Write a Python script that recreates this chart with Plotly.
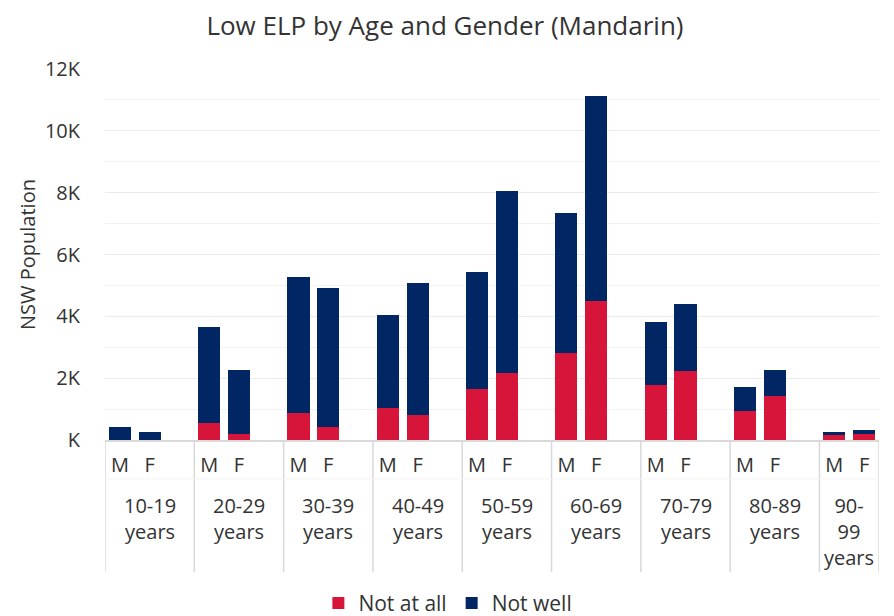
import plotly.graph_objects as go

age_groups = ["10-19<br>years", "20-29<br>years", "30-39<br>years", "40-49<br>years",
              "50-59<br>years", "60-69<br>years", "70-79<br>years", "80-89<br>years",
              "90-<br>99<br>years"]
genders = ["M", "F"]
# values in people: [M, F] per age group
not_at_all = [0, 0, 550, 180, 860, 430, 1030, 810, 1650, 2170,
              2810, 4500, 1780, 2230, 940, 1420, 150, 190]
total = [430, 250, 3650, 2260, 5270, 4920, 4040, 5080, 5430, 8050,
         7340, 11130, 3820, 4400, 1710, 2260, 270, 320]
not_well = [t - n for t, n in zip(total, not_at_all)]
y_tick_vals = [0, 2000, 4000, 6000, 8000, 10000, 12000]
y_tick_text = ["K", "2K", "4K", "6K", "8K", "10K", "12K"]

RED = "#D7153A"
NAVY = "#002664"
FONT = "Open Sans"
TXT = "#333333"

# slot positions: each age group gets M, F and a spacer slot (none after last)
xpos = []
for g in range(len(age_groups)):
    xpos += [3 * g, 3 * g + 1]
xlabels = genders * len(age_groups)

fig = go.Figure()
fig.add_trace(go.Bar(x=xpos, y=not_at_all, name="Not at all", marker_color=RED,
                     width=0.74, marker_line_width=0))
fig.add_trace(go.Bar(x=xpos, y=not_well, name="Not well", marker_color=NAVY,
                     width=0.74, marker_line_width=0))

shapes = []
divs = [3 * g - 0.5 for g in range(len(age_groups))] + [3 * (len(age_groups) - 1) + 1.5]
for d in divs:
    shapes.append(dict(type="line", xref="x", yref="paper", x0=d, x1=d, y0=0, y1=-0.356,
                       line=dict(color="#d9d9d9", width=1.5)))
shapes.append(dict(type="line", xref="paper", yref="paper", x0=0, x1=1, y0=-0.105, y1=-0.105,
                   line=dict(color="#f4f4f4", width=1)))

annotations = []
for g, lab in enumerate(age_groups):
    cx = 3 * g + 1 if g < len(age_groups) - 1 else 3 * g + 0.5
    yc = -0.212 if g < len(age_groups) - 1 else -0.246
    annotations.append(dict(x=cx, y=yc, xref="x", yref="paper", text=lab, showarrow=False,
                            font=dict(family=FONT, size=20, color=TXT),
                            xanchor="center", yanchor="middle", align="center"))

fig.update_layout(
    width=886, height=608,
    margin=dict(l=97, r=15, t=61, b=176, autoexpand=False),
    paper_bgcolor="white", plot_bgcolor="white",
    barmode="stack",
    title=dict(text="Low ELP by Age and Gender (Mandarin)", x=0.4932, xanchor="center",
               y=1, yanchor="top", pad=dict(t=9, b=0),
               font=dict(family=FONT, size=26, color=TXT)),
    font=dict(family=FONT, size=19, color=TXT),
    xaxis=dict(range=[-0.5, 25.5], tickmode="array", tickvals=xpos, ticktext=xlabels,
               showgrid=False, showline=True, linecolor="#d9d9d9", linewidth=2,
               ticks="", tickfont=dict(family=FONT, size=20, color=TXT), zeroline=False,
               ticklabelstandoff=6, automargin=False),
    yaxis=dict(range=[0, 12000], tickmode="array", tickvals=y_tick_vals, ticktext=y_tick_text,
               showgrid=True, gridcolor="#ebebeb", gridwidth=1,
               minor=dict(dtick=1000, showgrid=True, gridcolor="#f2f2f2", gridwidth=1),
               zeroline=False, tickfont=dict(family=FONT, size=20, color=TXT),
               title=dict(text="NSW Population", font=dict(family=FONT, size=20, color=TXT),
                          standoff=3), ticklabelstandoff=24, automargin=False),
    legend=dict(orientation="h", x=0.443, xanchor="center", y=-0.44, yanchor="middle",
                font=dict(family=FONT, size=21, color=TXT), itemwidth=30,
                traceorder="normal"),
    shapes=shapes, annotations=annotations,
    bargap=0.26,
)

fig.write_html("out.html")
